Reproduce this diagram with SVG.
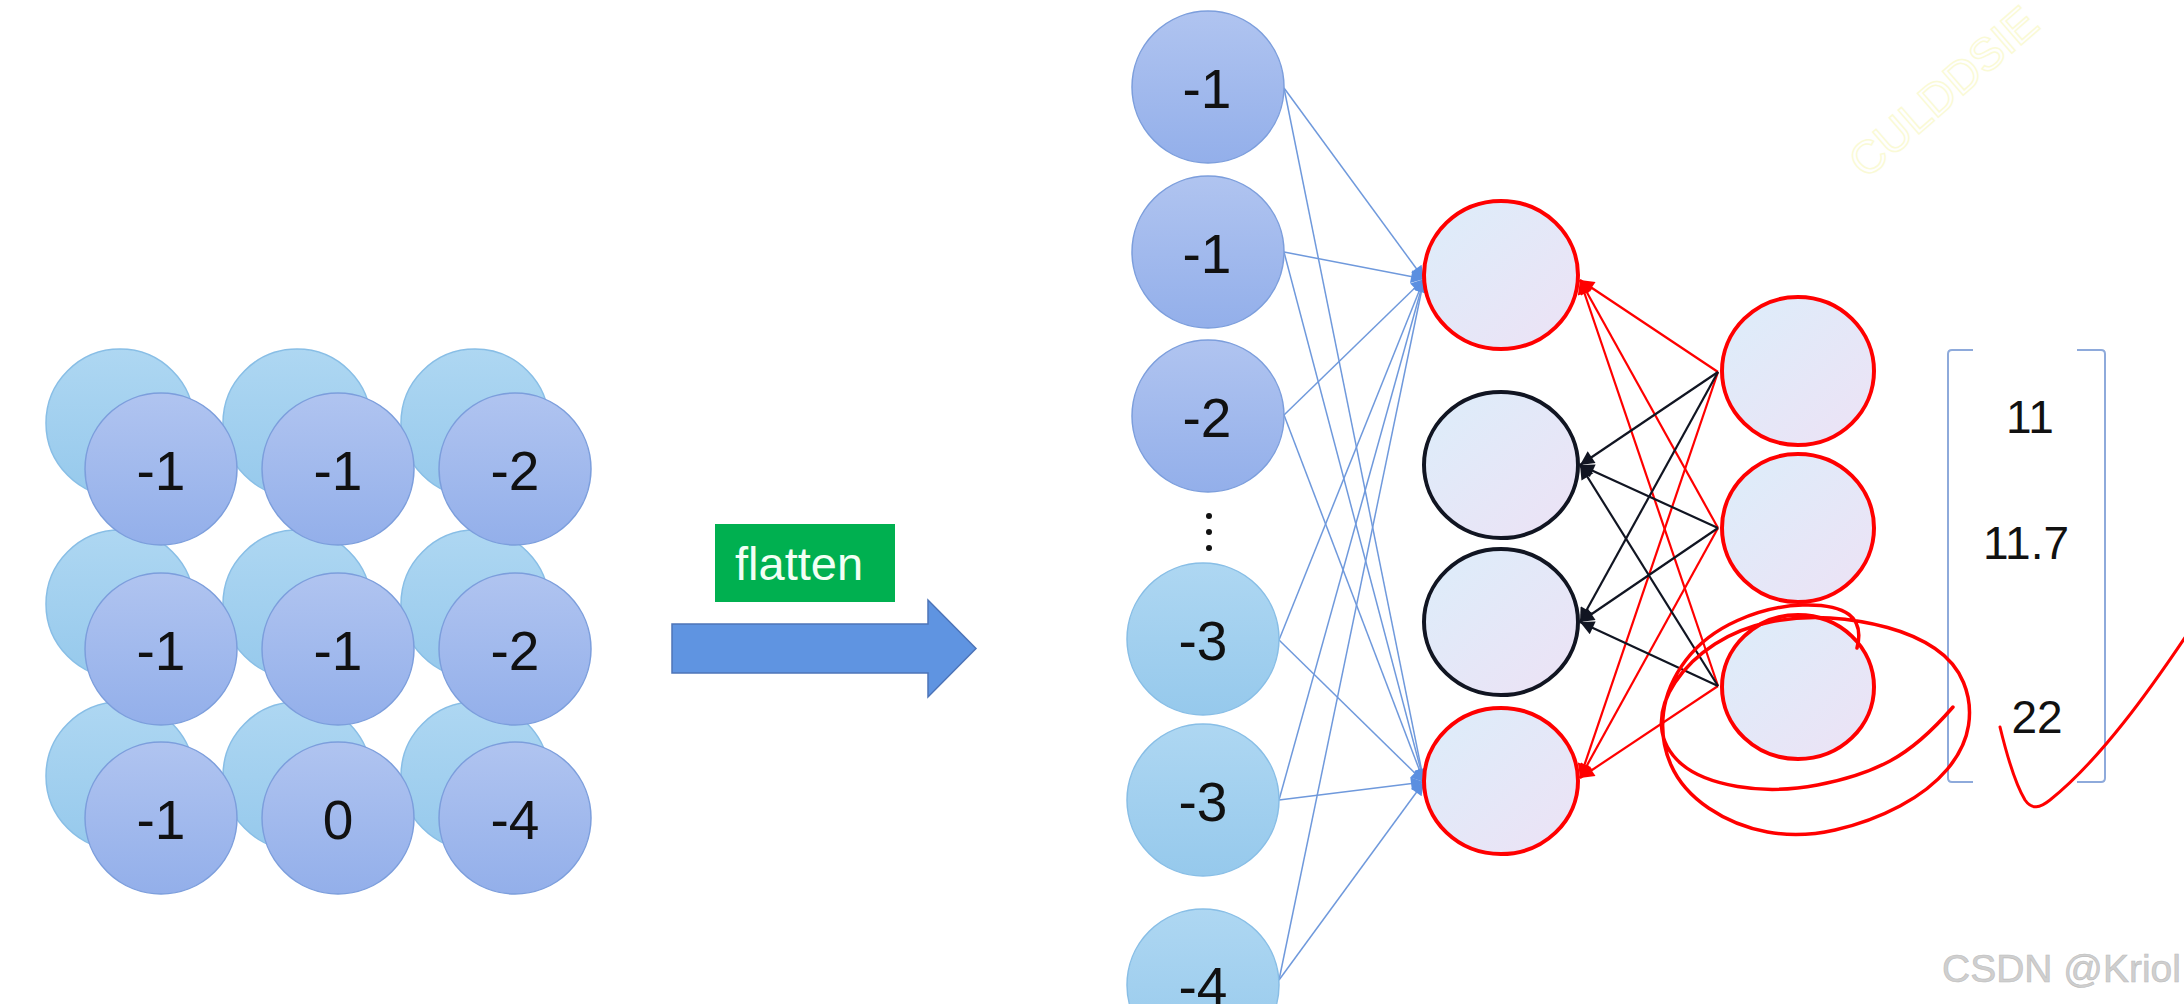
<svg xmlns="http://www.w3.org/2000/svg" width="2184" height="1004" viewBox="0 0 2184 1004">
<defs>
<linearGradient id="gFront" x1="0" y1="0" x2="0" y2="1"><stop offset="0" stop-color="#b0c4f0"/><stop offset="1" stop-color="#93afea"/></linearGradient>
<linearGradient id="gBack" x1="0" y1="0" x2="0" y2="1"><stop offset="0" stop-color="#aed7f2"/><stop offset="1" stop-color="#96c9ec"/></linearGradient>
<linearGradient id="gNode" x1="0" y1="0" x2="1" y2="1"><stop offset="0" stop-color="#dcedfa"/><stop offset="1" stop-color="#ede2f5"/></linearGradient>
<marker id="aBlue" viewBox="0 0 10 10" refX="10" refY="5" markerUnits="userSpaceOnUse" markerWidth="15" markerHeight="13" orient="auto"><path d="M0,0 L10,5 L0,10 z" fill="#5b8fe0"/></marker>
<marker id="aBlack" viewBox="0 0 10 10" refX="10" refY="5" markerUnits="userSpaceOnUse" markerWidth="16" markerHeight="14" orient="auto"><path d="M0,0 L10,5 L0,10 z" fill="#111522"/></marker>
<marker id="aRed" viewBox="0 0 10 10" refX="10" refY="5" markerUnits="userSpaceOnUse" markerWidth="16" markerHeight="14" orient="auto"><path d="M0,0 L10,5 L0,10 z" fill="#ff0000"/></marker>
<style>
.front{fill:url(#gFront);stroke:#7c9edc;stroke-width:1.5}
.back{fill:url(#gBack);stroke:#88bee6;stroke-width:1.5}
.lbl{font-family:"Liberation Sans",Arial,sans-serif;font-size:55px;fill:#111;text-anchor:middle}
.num{font-family:"Liberation Sans",Arial,sans-serif;font-size:46px;fill:#111;text-anchor:middle}
.hid{fill:url(#gNode);stroke-width:4}
.red{stroke:#ff0000}
.blk{stroke:#111522}
.bl{stroke:#6f99dc;stroke-width:1.5;fill:none;marker-end:url(#aBlue)}
.rl{stroke:#ff0000;stroke-width:2.2;fill:none;marker-end:url(#aRed)}
.kl{stroke:#111522;stroke-width:2.2;fill:none;marker-end:url(#aBlack)}
</style>
</defs>
<rect width="2184" height="1004" fill="#ffffff"/>

<g id="watermark-top">
<text x="0" y="0" transform="translate(1866,180) rotate(-41)" font-family="Liberation Sans,Arial,sans-serif" font-size="46" fill="none" stroke="#fafad6" stroke-width="1.5">CULDDSIE</text>
</g>

<g id="grid-back">
<circle class="back" cx="120" cy="423" r="74"/>
<circle class="back" cx="297" cy="423" r="74"/>
<circle class="back" cx="475" cy="423" r="74"/>
<circle class="back" cx="120" cy="604" r="74"/>
<circle class="back" cx="297" cy="604" r="74"/>
<circle class="back" cx="475" cy="604" r="74"/>
<circle class="back" cx="120" cy="776" r="74"/>
<circle class="back" cx="297" cy="776" r="74"/>
<circle class="back" cx="475" cy="776" r="74"/>
</g>
<g id="grid-front">
<g id="g11"><circle class="front" cx="161" cy="469" r="76"/><text class="lbl" x="161" y="490">-1</text></g>
<g id="g12"><circle class="front" cx="338" cy="469" r="76"/><text class="lbl" x="338" y="490">-1</text></g>
<g id="g13"><circle class="front" cx="515" cy="469" r="76"/><text class="lbl" x="515" y="490">-2</text></g>
<g id="g21"><circle class="front" cx="161" cy="649" r="76"/><text class="lbl" x="161" y="670">-1</text></g>
<g id="g22"><circle class="front" cx="338" cy="649" r="76"/><text class="lbl" x="338" y="670">-1</text></g>
<g id="g23"><circle class="front" cx="515" cy="649" r="76"/><text class="lbl" x="515" y="670">-2</text></g>
<g id="g31"><circle class="front" cx="161" cy="818" r="76"/><text class="lbl" x="161" y="839">-1</text></g>
<g id="g32"><circle class="front" cx="338" cy="818" r="76"/><text class="lbl" x="338" y="839">0</text></g>
<g id="g33"><circle class="front" cx="515" cy="818" r="76"/><text class="lbl" x="515" y="839">-4</text></g>
</g>

<g id="flatten">
<rect x="715" y="524" width="180" height="78" fill="#00b050"/>
<text x="735" y="580" font-family="Liberation Sans,Arial,sans-serif" font-size="47" fill="#f2fff4">flatten</text>
<polygon points="672,624 928,624 928,600 976,648.5 928,697 928,673 672,673" fill="#5f94e1" stroke="#4d74b8" stroke-width="1.5"/>
</g>

<g id="connectors">
<line class="bl" x1="1284" y1="88" x2="1424" y2="279"/>
<line class="bl" x1="1284" y1="88" x2="1424" y2="782"/>
<line class="bl" x1="1284" y1="252" x2="1424" y2="279"/>
<line class="bl" x1="1284" y1="252" x2="1424" y2="782"/>
<line class="bl" x1="1284" y1="415" x2="1424" y2="279"/>
<line class="bl" x1="1284" y1="415" x2="1424" y2="782"/>
<line class="bl" x1="1279" y1="640" x2="1424" y2="279"/>
<line class="bl" x1="1279" y1="640" x2="1424" y2="782"/>
<line class="bl" x1="1279" y1="800" x2="1424" y2="279"/>
<line class="bl" x1="1279" y1="800" x2="1424" y2="782"/>
<line class="bl" x1="1279" y1="980" x2="1424" y2="279"/>
<line class="bl" x1="1279" y1="980" x2="1424" y2="782"/>

<line class="rl" x1="1718" y1="372" x2="1580" y2="280"/>
<line class="rl" x1="1718" y1="528" x2="1580" y2="280"/>
<line class="rl" x1="1718" y1="686" x2="1580" y2="280"/>
<line class="rl" x1="1718" y1="372" x2="1580" y2="778"/>
<line class="rl" x1="1718" y1="528" x2="1580" y2="778"/>
<line class="rl" x1="1718" y1="686" x2="1580" y2="778"/>
<line class="kl" x1="1718" y1="372" x2="1580" y2="465"/>
<line class="kl" x1="1718" y1="528" x2="1580" y2="465"/>
<line class="kl" x1="1718" y1="686" x2="1580" y2="465"/>
<line class="kl" x1="1718" y1="372" x2="1580" y2="622"/>
<line class="kl" x1="1718" y1="528" x2="1580" y2="622"/>
<line class="kl" x1="1718" y1="686" x2="1580" y2="622"/>
</g>

<g id="inputs">
<g id="in1"><circle class="front" cx="1208" cy="87" r="76"/><text class="lbl" x="1207" y="108">-1</text></g>
<g id="in2"><circle class="front" cx="1208" cy="252" r="76"/><text class="lbl" x="1207" y="273">-1</text></g>
<g id="in3"><circle class="front" cx="1208" cy="416" r="76"/><text class="lbl" x="1207" y="437">-2</text></g>
<g id="dots" fill="#111"><circle cx="1209" cy="516" r="3"/><circle cx="1209" cy="532" r="3"/><circle cx="1209" cy="548" r="3"/></g>
<g id="in4"><circle class="back" cx="1203" cy="639" r="76"/><text class="lbl" x="1203" y="660">-3</text></g>
<g id="in5"><circle class="back" cx="1203" cy="800" r="76"/><text class="lbl" x="1203" y="821">-3</text></g>
<g id="in6"><circle class="back" cx="1203" cy="985" r="76"/><text class="lbl" x="1203" y="1006">-4</text></g>
</g>

<g id="hidden">
<ellipse id="h1" class="hid red" cx="1501" cy="275" rx="77" ry="74"/>
<ellipse id="h2" class="hid blk" cx="1501" cy="465" rx="77" ry="73"/>
<ellipse id="h3" class="hid blk" cx="1501" cy="622" rx="77" ry="73"/>
<ellipse id="h4" class="hid red" cx="1501" cy="781" rx="77" ry="73"/>
</g>

<g id="outputs">
<ellipse id="o1" class="hid red" cx="1798" cy="371" rx="76" ry="74"/>
<ellipse id="o2" class="hid red" cx="1798" cy="528" rx="76" ry="74"/>
<ellipse id="o3" class="hid red" cx="1798" cy="687" rx="76" ry="72"/>
</g>

<g id="vector">
<path d="M1973,350 L1952,350 Q1948,350 1948,354 L1948,778 Q1948,782 1952,782 L1973,782" fill="none" stroke="#8eaadb" stroke-width="2"/>
<path d="M2077,350 L2101,350 Q2105,350 2105,354 L2105,778 Q2105,782 2101,782 L2077,782" fill="none" stroke="#8eaadb" stroke-width="2"/>
<text class="num" x="2030" y="433">11</text>
<text class="num" x="2026" y="559">11.7</text>
<text class="num" x="2037" y="733">22</text>
</g>

<g id="annotations" fill="none" stroke="#ff0000" stroke-linecap="round" stroke-linejoin="round">
<path stroke-width="3.5" d="M1857,648 Q1863,625 1849,614.5 Q1835,604 1802.5,605 Q1770,606 1737.5,620.5 Q1705,635 1686,660 Q1667,685 1663.5,712.5 Q1660,740 1671,765 Q1682,790 1708.5,808 Q1735,826 1767.5,832 Q1800,838 1835,830 Q1870,822 1900,806 Q1930,790 1947.5,769 Q1965,748 1968.5,725.5 Q1972,703 1963.5,682.5 Q1955,662 1935,648.5 Q1915,635 1887.5,627.5 Q1860,620 1830,618 Q1800,616 1770,622 Q1740,628 1715,644 Q1690,660 1675,682.5 Q1660,705 1661.5,726.5 Q1663,748 1681.5,764 Q1700,780 1737.5,786.5 Q1775,793 1817.5,785 Q1860,777 1890,761 Q1920,745 1953,707"/>
<path stroke-width="3" d="M2000,727 C2008,760 2016,785 2025,800 C2032,810 2040,808 2050,800 C2100,760 2150,690 2190,630"/>
</g>

<g id="watermark">
<text x="1942" y="982" font-family="Liberation Sans,Arial,sans-serif" font-size="39" fill="#cfcfcf" stroke="#bdbdbd" stroke-width="0.6">CSDN @Kriol</text>
</g>
</svg>
